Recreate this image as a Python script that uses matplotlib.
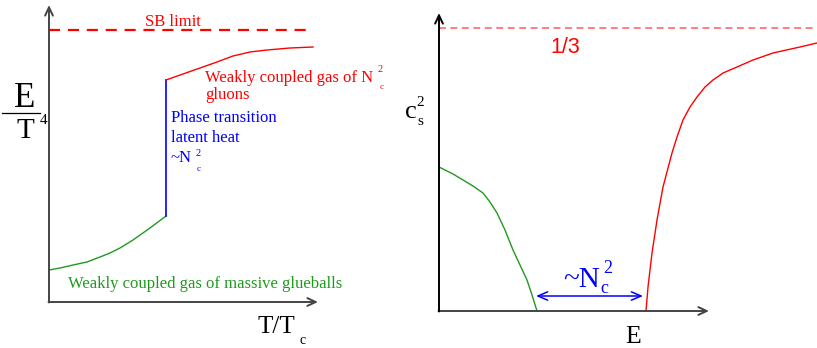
import matplotlib.pyplot as plt

plt.rcParams['font.family'] = ['Liberation Serif', 'DejaVu Serif']

RED = '#ff0000'
GREEN = '#1f9a1f'
BLUE = '#0000ff'
AXC = '#444444'

# left panel: E/T^4 against T/Tc (schematic units)
glue_x = [0, 11, 24, 38, 51, 61, 71, 84, 101, 117]
glue_y = [32, 34, 37, 40, 45, 49, 54, 62, 74, 86]
jump_x = [117, 117]
jump_y = [86, 222]
gluon_x = [117, 134, 151, 168, 184, 201, 218, 241, 264]
gluon_y = [222, 228, 234, 240, 246, 250, 252, 254, 255]
sb_level = 272

# right panel: c_s^2 against E (schematic units)
cs_low_x = [0, 14, 24, 34, 44, 51, 58, 66, 74, 81, 88, 93, 98]
cs_low_y = [144, 137, 131, 125, 118, 109, 98, 81, 61, 46, 31, 16, 0]
cs_high_x = [207, 209, 213, 218, 224, 233, 238, 244, 251, 258, 266, 274, 284, 298,
             314, 334, 361, 378]
cs_high_y = [0, 24, 58, 91, 124, 158, 174, 191, 204, 214, 224, 231, 238, 244,
             251, 258, 264, 268]
cs_limit = 283
gap_x = [97, 204]
gap_y = 15

fig = plt.figure(figsize=(8.17, 3.48), dpi=100)

# ---- left panel
ax1 = fig.add_axes([49 / 817, 46 / 348, 269 / 817, 297 / 348])
ax1.set_xlim(0, 269)
ax1.set_ylim(0, 297)
ax1.axis('off')

arr = dict(arrowstyle='->,head_length=0.6,head_width=0.28', color=AXC, lw=1.4,
           shrinkA=0, shrinkB=0)
ax1.annotate('', xy=(269, 0), xytext=(-0.5, 0), arrowprops=arr, annotation_clip=False)
ax1.annotate('', xy=(0, 297), xytext=(0, -0.5), arrowprops=arr, annotation_clip=False)

ax1.plot([0, 259], [sb_level, sb_level], color=RED, lw=1.6, dashes=(5, 3.5), clip_on=False)
ax1.plot(glue_x, glue_y, color=GREEN, lw=1.0, clip_on=False)
ax1.plot(jump_x, jump_y, color=BLUE, lw=1.2, clip_on=False)
ax1.plot(gluon_x, gluon_y, color=RED, lw=1.0, clip_on=False)

ax1.text(124, 276, 'SB limit', color=RED, fontsize=12, ha='center', va='baseline')
ax1.text(156, 220, 'Weakly coupled gas of N', color=RED, fontsize=12, va='baseline')
ax1.text(329, 230, '2', color=RED, fontsize=7.5, va='baseline')
ax1.text(331, 213, 'c', color=RED, fontsize=6.5, va='baseline')
ax1.text(156, 203, 'gluons', color=RED, fontsize=12, va='baseline')
ax1.text(122, 180, 'Phase transition', color=BLUE, fontsize=12, va='baseline')
ax1.text(122, 160, 'latent heat', color=BLUE, fontsize=12, va='baseline')
ax1.text(122, 140, '~N', color=BLUE, fontsize=12, va='baseline')
ax1.text(147, 146, '2', color=BLUE, fontsize=7.5, va='baseline')
ax1.text(148, 131, 'c', color=BLUE, fontsize=6.5, va='baseline')
ax1.text(19, 14, 'Weakly coupled gas of massive glueballs', color=GREEN, fontsize=12,
         va='baseline')

ax1.text(-24, 195, 'E', fontsize=25, ha='center', va='baseline')
ax1.plot([-47, -9], [189, 189], color='black', lw=0.9, clip_on=False)
ax1.text(-24, 164, 'T', fontsize=21, ha='center', va='baseline')
ax1.text(-9, 178, '4', fontsize=11, va='baseline')
ax1.text(209, -31, 'T/T', fontsize=18, va='baseline')
ax1.text(251, -42, 'c', fontsize=10, va='baseline')

# ---- right panel
ax2 = fig.add_axes([439 / 817, 37 / 348, 378 / 817, 298 / 348])
ax2.set_xlim(0, 378)
ax2.set_ylim(0, 298)
ax2.axis('off')

ax2.annotate('', xy=(270, 0), xytext=(-0.5, 0), arrowprops=arr, annotation_clip=False)
ax2.annotate('', xy=(0, 298), xytext=(0, -0.5),
             arrowprops=dict(arr, color='black'), annotation_clip=False)

ax2.plot([0, 378], [cs_limit, cs_limit], color='#ff5a5a', lw=1.1, dashes=(4.5, 3),
         clip_on=False)
ax2.plot(cs_low_x, cs_low_y, color=GREEN, lw=1.0, clip_on=False)
ax2.plot(cs_high_x, cs_high_y, color=RED, lw=1.0, clip_on=False)
ax2.annotate('', xy=(gap_x[1], gap_y), xytext=(gap_x[0], gap_y),
             arrowprops=dict(arrowstyle='<->,head_length=0.7,head_width=0.3',
                             color=BLUE, lw=1.1, shrinkA=0, shrinkB=0),
             annotation_clip=False)

ax2.text(111, 258, '1/3', color=RED, fontsize=15.5, family=['Liberation Sans', 'DejaVu Sans'],
         va='baseline')
ax2.text(124, 24, '~N', color=BLUE, fontsize=21, va='baseline')
ax2.text(161, 18, 'c', color=BLUE, fontsize=13, va='baseline')
ax2.text(164, 38, '2', color=BLUE, fontsize=13, va='baseline')

ax2.text(-34, 193, 'c', fontsize=19, va='baseline')
ax2.text(-23, 205, '2', fontsize=11, va='baseline')
ax2.text(-22, 186, 's', fontsize=11, va='baseline')
ax2.text(194.5, -32, 'E', fontsize=18.5, ha='center', va='baseline')

fig.savefig('out.png', dpi=100)
